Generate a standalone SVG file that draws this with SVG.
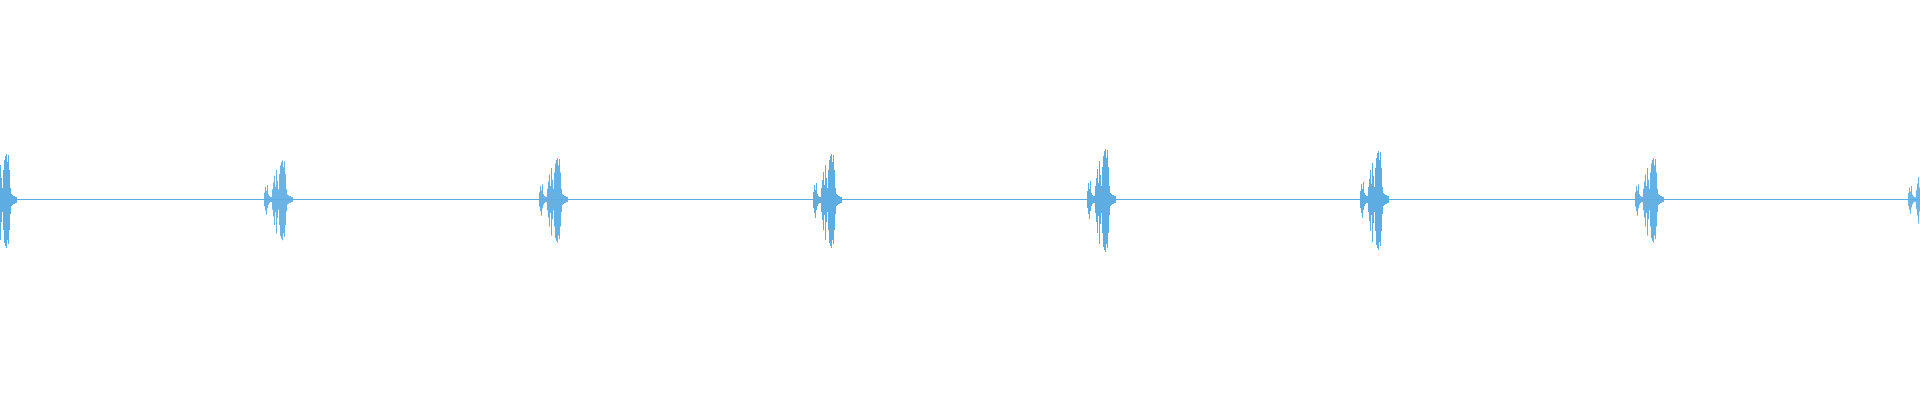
<svg xmlns="http://www.w3.org/2000/svg" width="1920" height="400" viewBox="0 0 1920 400">
<style>.w{stroke:#5DADE2;stroke-width:1;fill:none;shape-rendering:crispEdges}</style>
<defs>
<path id="b" class="w" d="M0,-8V8M1,-15V13M2,-10V18M3,-17V10M4,-6V6M5,-4V4M6,-3V3M7,-3V3M8,-12V12M9,-20V20M10,-28V30M11,-15V15M12,-35V40M13,-22V22M14,-12V12M15,-30V30M16,-40V43M17,-44V46M18,-46V48M19,-38V40M20,-45V44M21,-30V30M22,-12V14M23,-6V6M24,-5V5M25,-4V4M26,-4V4M27,-3V3M28,-3V3"/>
</defs>
<g id="baseline"><line class="w" x1="0" y1="199.5" x2="1920" y2="199.5"/></g>
<g id="bursts">
<use href="#b" transform="translate(-11.5,199.5)"/>
<use href="#b" transform="translate(264.5,199.5) scale(1,0.85)"/>
<use href="#b" transform="translate(539.5,199.5) scale(1,0.9)"/>
<use href="#b" transform="translate(813.5,199.5)"/>
<use href="#b" transform="translate(1087.5,199.5) scale(1,1.1)"/>
<use href="#b" transform="translate(1360.5,199.5) scale(1,1.05)"/>
<use href="#b" transform="translate(1635.5,199.5) scale(1,0.9)"/>
<use href="#b" transform="translate(1908.5,199.5) scale(1,0.8)"/>
</g>
</svg>
